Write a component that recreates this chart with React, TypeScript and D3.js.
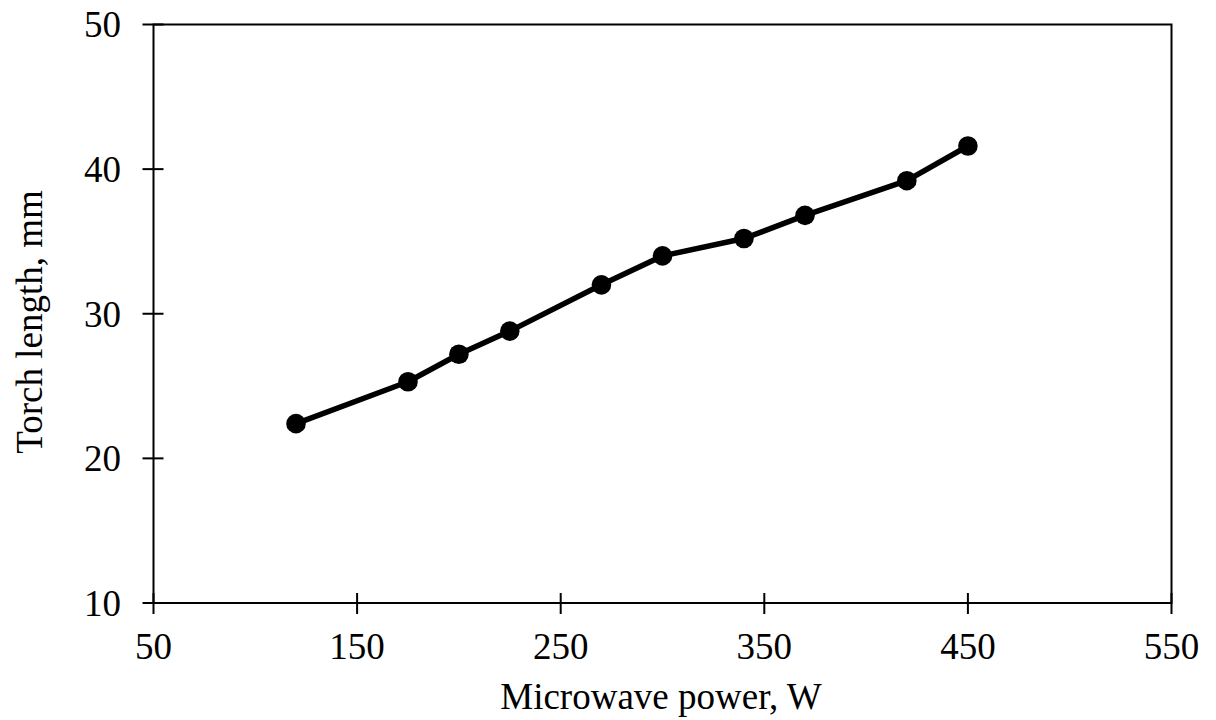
import React from "react";
import * as d3 from "d3";

const powerW = [120, 175, 200, 225, 270, 300, 340, 370, 420, 450];
const torchMm = [22.4, 25.3, 27.2, 28.8, 32.0, 34.0, 35.2, 36.8, 39.2, 41.6];
const xTicks = [50, 150, 250, 350, 450, 550];
const yTicks = [10, 20, 30, 40, 50];
const xTitle = "Microwave power, W";
const yTitle = "Torch length, mm";

export default function App() {
  const W = 1216, H = 720;
  const left = 153.5, right = 1171.5, top = 24.5, bottom = 603;
  const x = d3.scaleLinear().domain([50, 550]).range([left, right]);
  const y = d3.scaleLinear().domain([10, 50]).range([bottom, top]);
  const pts = powerW.map((p, i) => [p, torchMm[i]] as [number, number]);
  const line = d3.line<[number, number]>().x(d => x(d[0])).y(d => y(d[1]));
  const font = "'Liberation Serif', 'Times New Roman', serif";
  const fs = 37;
  return (
    <svg width={W} height={H} style={{ position: "absolute", left: 0, top: 0, background: "#fff" }} fontFamily={font}>
      <rect x={left} y={top} width={right - left} height={bottom - top} fill="none" stroke="#000" strokeWidth={2} />
      {yTicks.map(t => (
        <g key={"y" + t}>
          <line x1={left - 11} x2={left + 10} y1={y(t)} y2={y(t)} stroke="#000" strokeWidth={2} />
          <text x={121} y={y(t)} dy="0.35em" textAnchor="end" fontSize={fs} fill="#000">{t}</text>
        </g>
      ))}
      {xTicks.map(t => (
        <g key={"x" + t}>
          <line x1={x(t)} x2={x(t)} y1={bottom - 10} y2={bottom + 11} stroke="#000" strokeWidth={2} />
          <text x={x(t)} y={659} textAnchor="middle" fontSize={fs} fill="#000">{t}</text>
        </g>
      ))}
      <path d={line(pts) || ""} fill="none" stroke="#000" strokeWidth={5.5} strokeLinejoin="round" />
      {pts.map((d, i) => (
        <circle key={i} cx={x(d[0])} cy={y(d[1])} r={9.8} fill="#000" />
      ))}
      <text x={661} y={709} textAnchor="middle" fontSize={fs} fill="#000">{xTitle}</text>
      <text transform={`translate(42,322) rotate(-90)`} textAnchor="middle" fontSize={fs} fill="#000">{yTitle}</text>
    </svg>
  );
}
